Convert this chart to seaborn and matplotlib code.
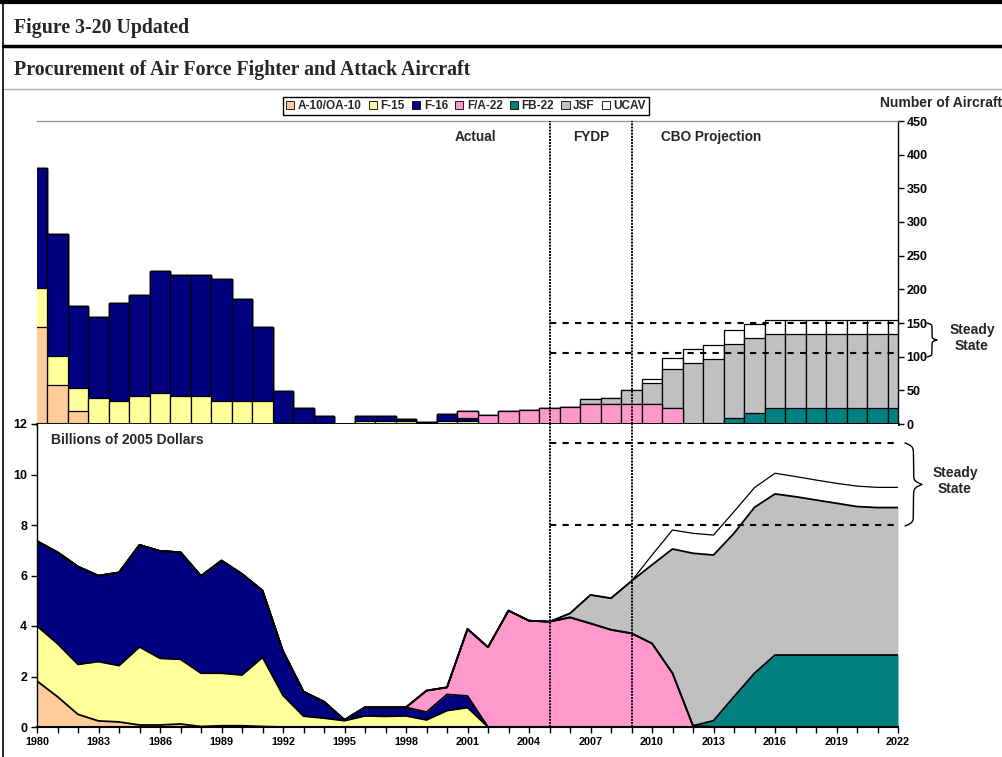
import numpy as np
import matplotlib
matplotlib.use("Agg")
import matplotlib.pyplot as plt
import seaborn as sns
from matplotlib.patches import Patch

years = list(range(1980, 2023))
series = ["A-10/OA-10", "F-15", "F-16", "F/A-22", "FB-22", "JSF", "UCAV"]
colors = ["#FFCC99", "#FFFF99", "#000080", "#FF99CC", "#008080", "#C0C0C0", "#FFFFFF"]

# number of aircraft per year (top panel)
n_a10 = [144, 58, 19, 0, 0, 0, 0, 0, 0, 0, 0, 0, 0, 0, 0, 0, 0, 0, 0, 0, 0, 0,
         0, 0, 0, 0, 0, 0, 0, 0, 0, 0, 0, 0, 0, 0, 0, 0, 0, 0, 0, 0, 0]
n_f15 = [58, 43, 34, 38, 34, 41, 46, 41, 41, 34, 34, 34, 2, 0, 0, 0, 4, 4, 4, 1, 4, 4,
         0, 0, 0, 0, 0, 0, 0, 0, 0, 0, 0, 0, 0, 0, 0, 0, 0, 0, 0, 0, 0]
n_f16 = [178, 181, 122, 121, 145, 150, 181, 181, 181, 181, 151, 110, 47, 24, 12, 0, 8, 8, 3, 2, 11, 5,
         0, 0, 0, 0, 0, 0, 0, 0, 0, 0, 0, 0, 0, 0, 0, 0, 0, 0, 0, 0, 0]
n_fa22 = [0, 0, 0, 0, 0, 0, 0, 0, 0, 0, 0, 0, 0, 0, 0, 0, 0, 0, 0, 0, 0, 10,
          13, 19, 21, 24, 25, 30, 30, 30, 30, 24, 0, 0, 0, 0, 0, 0, 0, 0, 0, 0, 0]
n_fb22 = [0, 0, 0, 0, 0, 0, 0, 0, 0, 0, 0, 0, 0, 0, 0, 0, 0, 0, 0, 0, 0, 0,
          0, 0, 0, 0, 0, 0, 0, 0, 0, 0, 0, 1, 9, 16, 24, 24, 24, 24, 24, 24, 24]
n_jsf = [0, 0, 0, 0, 0, 0, 0, 0, 0, 0, 0, 0, 0, 0, 0, 0, 0, 0, 0, 0, 0, 0,
         0, 0, 0, 0, 0, 7, 9, 20, 31, 58, 90, 96, 110, 112, 110, 110, 110, 110, 110, 110, 110]
n_ucav = [0, 0, 0, 0, 0, 0, 0, 0, 0, 0, 0, 0, 0, 0, 0, 0, 0, 0, 0, 0, 0, 0,
          0, 0, 0, 0, 0, 0, 0, 0, 6, 16, 21, 20, 20, 20, 20, 20, 20, 20, 20, 20, 20]

# billions of 2005 dollars per year (bottom panel)
b_a10 = [1.82, 1.2, 0.5, 0.24, 0.2, 0.08, 0.08, 0.12, 0.02, 0.05, 0.05, 0.02, 0, 0, 0, 0, 0, 0, 0, 0, 0, 0,
         0, 0, 0, 0, 0, 0, 0, 0, 0, 0, 0, 0, 0, 0, 0, 0, 0, 0, 0, 0, 0]
b_f15 = [2.18, 2.1, 1.98, 2.35, 2.23, 3.09, 2.64, 2.56, 2.11, 2.08, 2.01, 2.74, 1.25, 0.43, 0.35, 0.25,
         0.44, 0.42, 0.44, 0.28, 0.65, 0.77,
         0, 0, 0, 0, 0, 0, 0, 0, 0, 0, 0, 0, 0, 0, 0, 0, 0, 0, 0, 0, 0]
b_f16 = [3.36, 3.62, 3.87, 3.4, 3.69, 4.04, 4.25, 4.24, 3.85, 4.46, 4.0, 2.64, 1.75, 0.97, 0.65, 0.03,
         0.34, 0.36, 0.34, 0.31, 0.64, 0.46,
         0, 0, 0, 0, 0, 0, 0, 0, 0, 0, 0, 0, 0, 0, 0, 0, 0, 0, 0, 0, 0]
b_fa22 = [0, 0, 0, 0, 0, 0, 0, 0, 0, 0, 0, 0, 0, 0, 0, 0, 0, 0, 0, 0.85, 0.28, 2.65,
          3.16, 4.61, 4.21, 4.17, 4.34, 4.1, 3.85, 3.71, 3.31, 2.13, 0.05, 0, 0, 0, 0, 0, 0, 0, 0, 0, 0]
b_fb22 = [0, 0, 0, 0, 0, 0, 0, 0, 0, 0, 0, 0, 0, 0, 0, 0, 0, 0, 0, 0, 0, 0,
          0, 0, 0, 0, 0, 0, 0, 0, 0, 0, 0, 0.25, 1.2, 2.13, 2.85, 2.85, 2.85, 2.85, 2.85, 2.85, 2.85]
b_jsf = [0, 0, 0, 0, 0, 0, 0, 0, 0, 0, 0, 0, 0, 0, 0, 0, 0, 0, 0, 0, 0, 0,
         0, 0, 0, 0, 0.16, 1.13, 1.25, 2.07, 3.11, 4.92, 6.83, 6.56, 6.47, 6.57, 6.38, 6.27, 6.14,
         6.01, 5.88, 5.84, 5.84]
b_ucav = [0, 0, 0, 0, 0, 0, 0, 0, 0, 0, 0, 0, 0, 0, 0, 0, 0, 0, 0, 0, 0, 0,
          0, 0, 0, 0, 0, 0, 0, 0, 0.39, 0.75, 0.79, 0.79, 0.86, 0.78, 0.82, 0.8, 0.79, 0.79, 0.81, 0.8, 0.8]

phase_lines = [2005, 2009]
steady_n = [150, 105]
steady_b = [11.25, 8.0]

sns.set_theme(style="white")
plt.rcParams["font.family"] = ["Liberation Sans", "DejaVu Sans"]
plt.rcParams["font.weight"] = "bold"

W, H = 1003, 757
fig = plt.figure(figsize=(W / 100, H / 100), dpi=100)
x0, x1 = 37 / W, 898 / W
ax_top = fig.add_axes([x0, 1 - 424 / H, x1 - x0, 303 / H])
ax_bot = fig.add_axes([x0, 1 - 727 / H, x1 - x0, 303 / H])

# top: stacked bars, drawn as cumulative totals from the top down
counts = np.array([n_a10, n_f15, n_f16, n_fa22, n_fb22, n_jsf, n_ucav], dtype=float)
cum_n = counts.cumsum(axis=0)
for i in range(len(series) - 1, -1, -1):
    sns.barplot(x=years, y=cum_n[i], native_scale=True, width=1, color=colors[i],
                saturation=1, edgecolor="black", linewidth=0.9, errorbar=None, ax=ax_top)

ax_top.set_xlim(1980, 2022)
ax_top.set_ylim(0, 450)
ax_top.set_xticks([])
ax_top.yaxis.tick_right()
ax_top.set_yticks(range(0, 451, 50))
ax_top.tick_params(axis="y", direction="out", length=4, width=1, labelsize=9, pad=2, colors="black")
for lab in ax_top.get_yticklabels():
    lab.set_fontweight("bold")
ax_top.spines["left"].set_visible(False)
ax_top.spines["top"].set_color("#9a9a9a")
ax_top.spines["top"].set_linewidth(1)
ax_top.spines["right"].set_color("black")
ax_top.spines["right"].set_linewidth(1)
ax_top.spines["bottom"].set_color("black")
ax_top.spines["bottom"].set_linewidth(2)
ax_top.set_xlabel("")
ax_top.set_ylabel("")
ax_top.hlines(steady_n, phase_lines[0], 2022, colors="black", linestyles=(0, (3, 3)), lw=1.5, zorder=5)
for yr in phase_lines:
    ax_top.axvline(yr, color="black", lw=1.4, ls=(0, (1, 0.6)), zorder=6)
ax_top.text(2001.4, 426, "Actual", ha="center", va="center", fontsize=9.8, fontweight="bold")
ax_top.text(2007.05, 426, "FYDP", ha="center", va="center", fontsize=9.8, fontweight="bold")
ax_top.text(2012.87, 426, "CBO Projection", ha="center", va="center", fontsize=9.8, fontweight="bold")

# bottom: stacked areas
dollars = np.array([b_a10, b_f15, b_f16, b_fa22, b_fb22, b_jsf, b_ucav])
cum_b = dollars.cumsum(axis=0)
lower = np.zeros(len(years))
for i in range(len(series)):
    ax_bot.fill_between(years, lower, cum_b[i], color=colors[i], lw=0, zorder=1)
    lower = cum_b[i]
for i in range(len(series)):
    sns.lineplot(x=years, y=cum_b[i], color="black", lw=0.9 if i == 6 else 1.3, ax=ax_bot, zorder=2)

ax_bot.set_xlim(1980, 2022)
ax_bot.set_ylim(0, 12)
ax_bot.set_yticks(range(0, 13, 2))
ax_bot.set_xticks(range(1980, 2023, 3))
ax_bot.set_xticks(years, minor=True)
ax_bot.tick_params(axis="both", which="both", direction="out", length=4, width=1,
                   labelsize=9, pad=3, colors="black", bottom=True, left=True)
ax_bot.tick_params(axis="x", labelsize=7.8)
for lab in ax_bot.get_xticklabels() + ax_bot.get_yticklabels():
    lab.set_fontweight("bold")
ax_bot.spines["right"].set_visible(False)
ax_bot.spines["top"].set_visible(False)
ax_bot.spines["left"].set_color("black")
ax_bot.spines["left"].set_linewidth(1)
ax_bot.spines["bottom"].set_color("black")
ax_bot.spines["bottom"].set_linewidth(1.5)
ax_bot.set_xlabel("")
ax_bot.set_ylabel("")
ax_bot.hlines(steady_b, phase_lines[0], 2022, colors="black", linestyles=(0, (3, 3)), lw=1.5, zorder=5)
for yr in phase_lines:
    ax_bot.axvline(yr, color="black", lw=1.4, ls=(0, (1, 0.6)), zorder=6)
ax_bot.text(1980.7, 11.37, "Billions of 2005 Dollars", ha="left", va="center", fontsize=10,
            fontweight="bold")

# legend
handles = [Patch(facecolor=c, edgecolor="black", lw=0.6) for c in colors]
fig.legend(handles, series, loc="center", bbox_to_anchor=(466 / W, 1 - 106 / H), ncol=7,
           frameon=True, fancybox=False, edgecolor="black", framealpha=1,
           prop={"weight": "bold", "size": 8.5}, handlelength=0.7, handleheight=0.7,
           columnspacing=0.6, handletextpad=0.3, borderpad=0.25, borderaxespad=0)

# frame, header and braces in pixel coordinates
ov = fig.add_axes([0, 0, 1, 1])
ov.set_xlim(0, W)
ov.set_ylim(H, 0)
ov.axis("off")
ov.patch.set_alpha(0)
ov.plot([0, W], [2, 2], color="black", lw=3)
ov.plot([3, W], [46, 46], color="black", lw=2.5)
ov.plot([3, W], [88.5, 88.5], color="#b0b0b0", lw=1)
ov.plot([3, 3], [0, H], color="black", lw=1.2)
ov.text(14, 28, "Figure 3-20 Updated", ha="left", va="center", fontsize=14.3,
        fontweight="bold", family=["Liberation Serif", "DejaVu Serif"])
ov.text(14, 70, "Procurement of Air Force Fighter and Attack Aircraft", ha="left", va="center",
        fontsize=14.3, fontweight="bold", family=["Liberation Serif", "DejaVu Serif"])
ov.text(880, 103, "Number of Aircraft", ha="left", va="center", fontsize=10, fontweight="bold")


def brace(xl, ytop, ybot, width):
    half = (ybot - ytop) / 2
    t = np.linspace(0, half, 120)
    beta = 12.0 / half * 2
    f = 1 / (1 + np.exp(-beta * (t - t[0]))) + 1 / (1 + np.exp(-beta * (t - t[-1])))
    xs = xl + width * (f - 0.5)
    ys = ytop + t
    xs = np.concatenate([xs, xs[::-1]])
    ys = np.concatenate([ys, ybot - t[::-1]])
    ov.plot(xs, ys, color="black", lw=1)


brace(927, 323, 357, 10)
brace(905, 443, 526, 17)
ov.text(972, 338, "Steady\nState", ha="center", va="center", fontsize=10, fontweight="bold",
        linespacing=1.1)
ov.text(955, 481, "Steady\nState", ha="center", va="center", fontsize=10, fontweight="bold",
        linespacing=1.1)

fig.savefig("out.png", dpi=100)
